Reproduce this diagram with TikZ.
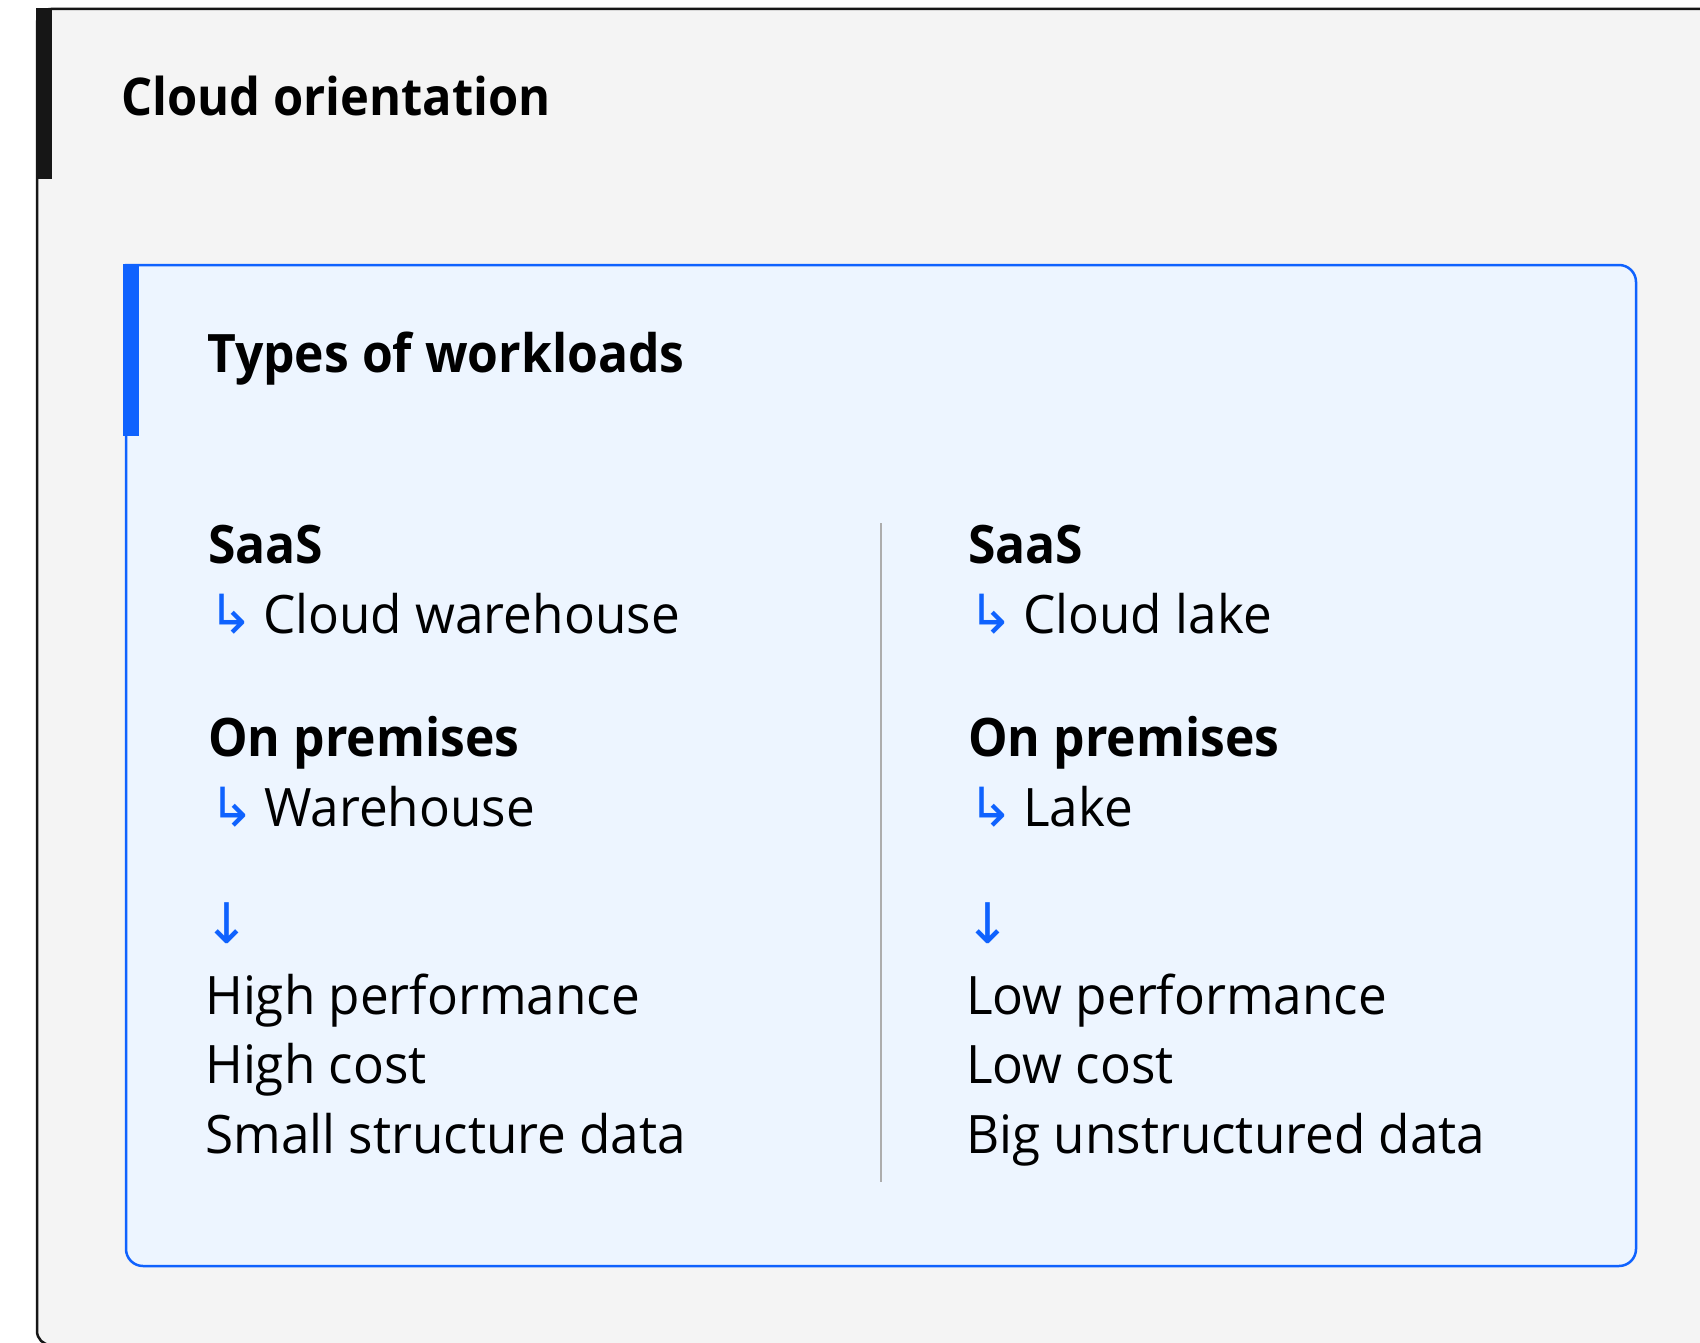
\documentclass[tikz,border=0pt]{standalone}
\usepackage{fontspec}
\setmainfont{Open Sans}[FakeStretch=0.967]
\newfontfamily\headfont{Open Sans}[FakeStretch=0.94]
\newfontfamily\arrowfont{DejaVu Sans}
\usetikzlibrary{positioning}
\definecolor{panelgray}{HTML}{F4F4F4}
\definecolor{framedark}{HTML}{161616}
\definecolor{ibmblue}{HTML}{0F62FE}
\definecolor{paleblue}{HTML}{EDF5FF}
\definecolor{rulegray}{HTML}{ADADAD}
\tikzset{
    title/.style={anchor=base west, inner sep=0pt, font=\headfont\bfseries\fontsize{53}{60}\selectfont},
    head/.style={anchor=base west, inner sep=0pt, font=\headfont\bfseries\fontsize{53}{60}\selectfont},
    item/.style={anchor=base west, inner sep=0pt, font=\fontsize{53}{60}\selectfont},
    pointer/.style={anchor=base west, inner sep=0pt, text=ibmblue, font=\arrowfont\fontsize{54}{60}\selectfont},
    drop/.style={anchor=base west, inner sep=0pt, text=ibmblue, font=\arrowfont\fontsize{56}{60}\selectfont}
}

\begin{document}
\begin{tikzpicture}[x=1pt, y=-1pt]
    \useasboundingbox (0,0) rectangle (1700,1343);
    \clip (0,0) rectangle (1700,1343);
    \fill[white] (0,0) rectangle (1700,1343);

    \draw[framedark, line width=2.5pt, fill=panelgray, rounded corners=14pt] (37,9) rectangle (1760,1345);
    \fill[framedark] (36,8) rectangle (52,179);
    \node[title, font=\headfont\bfseries\fontsize{52}{60}\selectfont] (cloudtitle) at (121,116) {Cloud orientation};

    \draw[ibmblue, line width=2.5pt, fill=paleblue] (126,436) -- (126,265) -- (1580,265) [rounded corners=17pt] -- (1636,265) -- (1636,1266) -- (126,1266) -- (126,436);
    \fill[ibmblue] (123,264) rectangle (139,436);
    \node[title] (typestitle) at (207,372) {Types of workloads};

    \draw[rulegray, line width=2pt] (881,523) -- (881,1182);

    \node[head] (saasL) at (208,563) {SaaS};
    \node[pointer] (ptrcwL) at (208,633) {↳};
    \node[item] (cwL) at (263,633) {Cloud warehouse};
    \node[head] (premL) at (208,756) {On premises};
    \node[pointer] (ptrwhL) at (209,826) {↳};
    \node[item] (whL) at (264,826) {Warehouse};
    \node[drop] (downL) at (203,943) {↓};
    \node[item] (perfL) at (205,1014) {High performance};
    \node[item, below=69pt of perfL.base west, anchor=base west] (costL) {High cost};
    \node[item, below=70pt of costL.base west, anchor=base west] (dataL) {Small structure data};

    \node[head] (saasR) at (968,563) {SaaS};
    \node[pointer] (ptrclR) at (968,633) {↳};
    \node[item] (clR) at (1023,633) {Cloud lake};
    \node[head] (premR) at (968,756) {On premises};
    \node[pointer] (ptrlkR) at (968,826) {↳};
    \node[item] (lkR) at (1023,826) {Lake};
    \node[drop] (downR) at (964,943) {↓};
    \node[item] (perfR) at (966,1014) {Low performance};
    \node[item, below=69pt of perfR.base west, anchor=base west] (costR) {Low cost};
    \node[item, below=70pt of costR.base west, anchor=base west] (dataR) {Big unstructured data};
\end{tikzpicture}
\end{document}
